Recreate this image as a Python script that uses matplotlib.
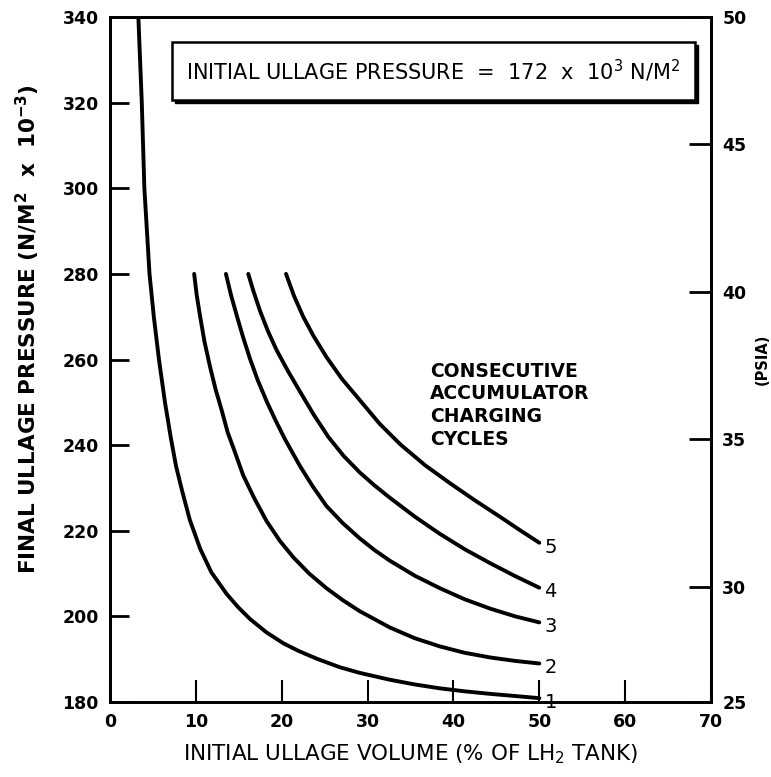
import numpy as np
import matplotlib.pyplot as plt
from matplotlib.patches import Rectangle

plt.rcParams['font.family'] = ['DejaVu Sans']
plt.rcParams['mathtext.fontset'] = 'dejavusans'

KPA_PER_PSI = 6.895

# curves: initial ullage volume (%) vs final pressure (kN/m2)
vol_1 = [3.3, 3.5, 3.7, 3.85, 4.0, 4.3, 4.6, 5.1, 5.7, 6.4, 7.1, 7.7, 8.4, 9.3, 10.5,
         11.8, 13.6, 14.9, 16.3, 18.2, 20.2, 22.0, 24.1, 26.8, 29.1, 32.6, 35.5,
         38.4, 41.3, 44.3, 47.2, 50.0]
p_1 = [340, 330, 320, 310, 300, 290, 280, 270, 260, 250, 241.5, 235, 229.3, 222.5, 215.8,
       210.3, 205.2, 202.2, 199.4, 196.3, 193.7, 191.9, 190.1, 188.1, 186.8, 185.2, 184.1,
       183.2, 182.5, 181.9, 181.4, 180.9]

vol_2 = [9.8, 10.1, 10.5, 11.0, 11.65, 12.3, 13.0, 13.7, 14.4, 15.5, 16.8, 18.25, 19.8,
         21.35, 23.2, 25.2, 27.1, 29.1, 32.6, 35.5, 38.4, 41.3, 44.3, 47.2, 50.0]
p_2 = [280, 275, 270, 264.2, 258.3, 253.0, 248.2, 243.0, 239.2, 233.0, 227.6, 222.2, 217.6,
       213.8, 210.0, 206.6, 203.8, 201.2, 197.4, 194.9, 193.0, 191.5, 190.4, 189.6, 189.0]

vol_3 = [13.5, 14.1, 14.8, 15.5, 16.3, 17.2, 18.25, 19.3, 20.4, 22.1, 23.6, 25.2, 27.1,
         29.1, 30.8, 32.6, 35.5, 38.4, 41.3, 44.3, 47.2, 50.0]
p_3 = [280, 275, 270, 265.2, 260.2, 255.2, 250.2, 245.7, 241.3, 235.2, 230.4, 225.8, 221.8,
       218.2, 215.5, 213.0, 209.5, 206.6, 204.0, 201.8, 200.0, 198.6]

vol_4 = [16.1, 16.7, 17.5, 18.4, 19.4, 20.7, 22.1, 23.7, 25.4, 27.2, 29.1, 30.8, 32.6,
         35.5, 38.4, 41.3, 44.3, 47.2, 50.0]
p_4 = [280, 276.0, 271.2, 266.6, 262.2, 257.4, 252.6, 247.2, 242.0, 237.5, 233.6, 230.6,
       227.7, 223.3, 219.3, 215.7, 212.4, 209.4, 206.7]

vol_5 = [20.5, 21.4, 22.5, 23.7, 25.2, 27.0, 29.1, 31.4, 33.8, 36.7, 39.6, 42.5, 45.4,
         47.7, 50.0]
p_5 = [280, 275, 270, 265.5, 260.6, 255.5, 250.5, 245.0, 240.2, 235.3, 231.1, 227.1,
       223.3, 220.2, 217.2]

cycle_labels = ['1', '2', '3', '4', '5']
x_ticks = [0, 10, 20, 30, 40, 50, 60, 70]
y_ticks = [180, 200, 220, 240, 260, 280, 300, 320, 340]
psia_ticks = [25, 30, 35, 40, 45, 50]

fig = plt.figure(figsize=(7.71, 7.77), dpi=100)
ax = fig.add_axes([0.1427, 0.0965, 0.7795, 0.8816])

curves = [(vol_1, p_1), (vol_2, p_2), (vol_3, p_3), (vol_4, p_4), (vol_5, p_5)]
for (v, p), lab in zip(curves, cycle_labels):
    ax.plot(v, p, color='k', lw=2.8, solid_capstyle='round')
    ax.text(v[-1] + 0.6, p[-1] - 1.0, lab, fontsize=14, va='center', ha='left')

ax.set_xlim(0, 70)
ax.set_ylim(180, 340)
ax.set_xticks(x_ticks)
ax.set_yticks(y_ticks)
for s in ax.spines.values():
    s.set_linewidth(2)
ax.tick_params(axis='y', direction='in', length=14, width=2, pad=8,
               labelsize=12.5)
ax.tick_params(axis='x', direction='in', length=16, width=1.5, pad=8,
               labelsize=12.5)
for t in ax.get_yticklabels() + ax.get_xticklabels():
    t.set_fontweight('bold')

ax.set_xlabel('INITIAL ULLAGE VOLUME (% OF LH$_2$ TANK)', fontsize=15.5,
              labelpad=8)
ax.set_ylabel('FINAL ULLAGE PRESSURE (N/M$^\\mathbf{2}$  x  10$^\\mathbf{-3}$)',
              fontsize=15.5, fontweight='bold')
ax.yaxis.set_label_coords(-0.113, 0.545)

# right hand scale in psia
ax2 = ax.twinx()
ax2.set_ylim(180, 340)
psia_pos = np.clip(np.array(psia_ticks) * KPA_PER_PSI, 180, 340)
ax2.set_yticks(psia_pos)
ax2.set_yticklabels([str(t) for t in psia_ticks], fontweight='bold')
ax2.tick_params(axis='y', direction='in', length=16, width=2, pad=8,
                labelsize=12.5)
ax2.set_ylabel('(PSIA)', fontsize=10.5, fontweight='bold', labelpad=6)
for s in ax2.spines.values():
    s.set_linewidth(2)

# boxed note with drop shadow
ax.add_patch(Rectangle((0.108, 0.874), 0.870, 0.085, transform=ax.transAxes,
                       facecolor='k', edgecolor='k', zorder=4))
ax.add_patch(Rectangle((0.103, 0.879), 0.870, 0.085, transform=ax.transAxes,
                       facecolor='white', edgecolor='k', lw=1.8, zorder=5))
ax.text(0.538, 0.921, 'INITIAL ULLAGE PRESSURE  =  172  x  10$^3$ N/M$^2$',
        transform=ax.transAxes, ha='center', va='center', fontsize=15,
        zorder=6)

ax.text(37.3, 259.5, 'CONSECUTIVE\nACCUMULATOR\nCHARGING\nCYCLES',
        fontsize=13.5, fontweight='bold', ha='left', va='top',
        linespacing=1.25)

fig.savefig('out.png', dpi=100)
